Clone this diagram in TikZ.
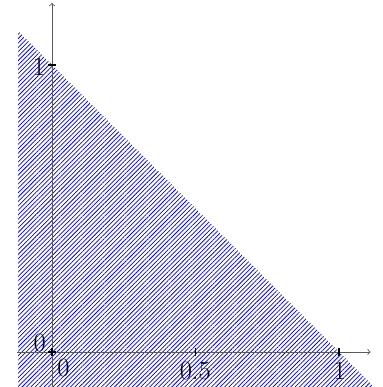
\documentclass[tikz,border=0pt]{standalone}
\usetikzlibrary{patterns,patterns.meta}
\begin{document}
\begin{tikzpicture}[x=6.87cm,y=6.87cm,
  axisline/.style={draw=black!65, line width=0.6pt, ->},
  tickmark/.style={draw=black, line width=0.9pt},
  hatch/.style={pattern={Lines[angle=45,distance=2.12pt,line width=0.5pt]}, pattern color=blue},
  ticklabel/.style={font=\fontsize{18}{20}\selectfont, inner sep=0pt}]
\useasboundingbox (-0.181,-0.122) rectangle (1.150,1.226);
\fill[hatch]
  (-0.118,-0.13) -- (-0.118,1.118) -- (1.13,-0.13) -- cycle;
\coordinate (xs) at (-0.122,0);
\coordinate (xe) at (1.11,0);
\coordinate (ys) at (0,-0.125);
\coordinate (ye) at (0,1.216);
\draw[axisline] (xs) -- (xe);
\draw[axisline] (ys) -- (ye);
\foreach \t in {0,0.5,1} \draw[tickmark] (\t,-0.013) -- (\t,0.013);
\foreach \t in {0,1} \draw[tickmark] (-0.013,\t) -- (0.013,\t);
\node[ticklabel] (ly0) at (-0.043,0.033) {0};
\node[ticklabel] (ly1) at (-0.045,0.992) {1};
\node[ticklabel] (lx0) at (0.040,-0.054) {0};
\node[ticklabel] (lx5) at (0.499,-0.066) {0.5};
\node[ticklabel] (lx1) at (1.002,-0.066) {1};
\end{tikzpicture}
\end{document}
